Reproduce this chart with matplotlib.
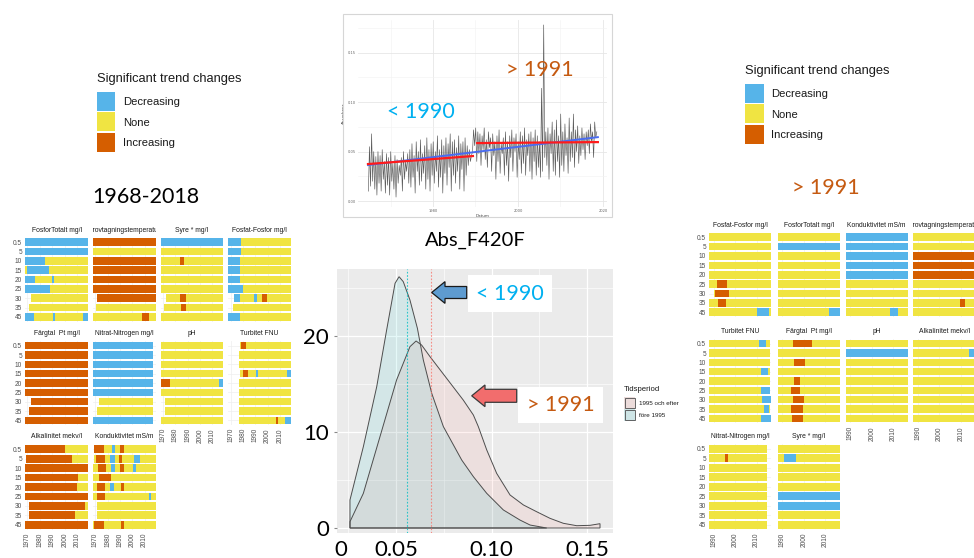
import numpy as np
import matplotlib
matplotlib.use('Agg')
import matplotlib.pyplot as plt
from matplotlib.patches import Rectangle, FancyArrow
from matplotlib.transforms import Affine2D

# ---------------------------------------------------------------- data
TREND_COLORS = {'D': '#56B4E9', 'N': '#F0E442', 'I': '#D55E00'}
legend_codes = ['D', 'N', 'I']
legend_labels = ['Decreasing', 'None', 'Increasing']
depths = ['0.5', '5', '10', '15', '20', '25', '30', '35', '45']

left_period = (1968, 2019)
left_xticks = [1970, 1980, 1990, 2000, 2010]
right_period = (1987.8, 2016.8)
right_xticks = [1990, 2000, 2010]

left_titles = ['FosforTotalt mg/l', 'Provtagningstemperatur', 'Syre * mg/l', 'Fosfat-Fosfor mg/l',
               'Färgtal  Pt mg/l', 'Nitrat-Nitrogen mg/l', 'pH', 'Turbitet FNU',
               'Alkalinitet mekv/l', 'Konduktivitet mS/m']

lp_fosfortotalt = [
    [('D', 1968, 2019)],
    [('D', 1968, 2019)],
    [('D', 1968, 1984.4), ('N', 1984.4, 2019)],
    [('N', 1968, 1969.5), ('D', 1969.5, 1987), ('N', 1987, 2019)],
    [('D', 1968, 1976), ('N', 1976, 1989.7), ('D', 1989.7, 1991.6), ('N', 1991.6, 2019)],
    [('D', 1968, 1988.4), ('N', 1988.4, 2019)],
    [('N', 1973, 2019)],
    [('N', 1971.6, 2019)],
    [('D', 1968, 1975.6), ('N', 1975.6, 1990.3), ('D', 1990.3, 1992.2), ('N', 1992.2, 2015), ('D', 2015, 2019)],
]
lp_temp = [
    [('I', 1968, 2019)],
    [('N', 1968, 2019)],
    [('I', 1968, 2019)],
    [('I', 1968, 2019)],
    [('I', 1968, 2019)],
    [('I', 1968, 2019)],
    [('I', 1971.6, 2019)],
    [('N', 1970.3, 2019)],
    [('N', 1968, 2007.8), ('I', 2007.8, 2013.2), ('N', 2013.2, 2019)],
]
lp_syre = [
    [('D', 1968, 2019)],
    [('N', 1968, 2019)],
    [('N', 1968, 1983.4), ('I', 1983.4, 1987.2), ('N', 1987.2, 2019)],
    [('N', 1968, 2019)],
    [('N', 1968, 2019)],
    [('N', 1968, 2019)],
    [('N', 1972.7, 1983.4), ('I', 1983.4, 1988.4), ('N', 1988.4, 2019)],
    [('N', 1971, 1984.2), ('I', 1984.2, 1989), ('N', 1989, 2019)],
    [('N', 1968, 2019)],
]
lp_fosfat = [
    [('D', 1968, 1978.6), ('N', 1978.6, 2019)],
    [('D', 1968, 1978), ('N', 1978, 2019)],
    [('D', 1968, 1977.8), ('N', 1977.8, 2019)],
    [('D', 1968, 1977.2), ('N', 1977.2, 2019)],
    [('D', 1968, 1977.8), ('N', 1977.8, 2019)],
    [('D', 1968, 1979.7), ('N', 1979.7, 2019)],
    [('D', 1972.4, 1977.8), ('N', 1977.8, 1989.3), ('D', 1989.3, 1991.7), ('N', 1991.7, 1995.2),
     ('I', 1995.2, 1999.2), ('N', 1999.2, 2019)],
    [('N', 1971.6, 2019)],
    [('D', 1968, 1977.2), ('N', 1977.2, 2019)],
]
lp_fargtal = [
    [('I', 1968, 2019)],
    [('I', 1968, 2019)],
    [('I', 1968, 2019)],
    [('I', 1968, 2019)],
    [('I', 1968, 2019)],
    [('I', 1968, 2019)],
    [('I', 1973, 2019)],
    [('I', 1971.6, 2019)],
    [('I', 1968, 2019)],
]
lp_nitrat = [
    [('D', 1968, 2016.6)],
    [('D', 1968, 2016.6)],
    [('D', 1968, 2016.6)],
    [('D', 1968, 2016.6)],
    [('D', 1968, 2016.6)],
    [('D', 1968, 2016.6)],
    [('N', 1973.2, 2016.6)],
    [('N', 1971.6, 2016.6)],
    [('D', 1968, 2016.6)],
]
lp_ph = [
    [('N', 1968, 2018.5)],
    [('N', 1968, 2018.5)],
    [('N', 1968, 2018.5)],
    [('N', 1968, 2018.5)],
    [('I', 1968, 1975.7), ('N', 1975.7, 2015.3), ('D', 2015.3, 2018.5)],
    [('N', 1968, 2018.5)],
    [('N', 1971.3, 2018.5)],
    [('N', 1971.3, 2018.5)],
    [('N', 1968, 2018.5)],
]
lp_turbitet = [
    [('N', 1977.5, 1978.5), ('I', 1978.5, 1982.6), ('N', 1982.6, 2019)],
    [('N', 1976.7, 2019)],
    [('N', 1976.7, 2019)],
    [('N', 1977.5, 1979.9), ('I', 1979.9, 1983.7), ('N', 1983.7, 1990.5), ('D', 1990.5, 1992.2),
     ('N', 1992.2, 2015.5), ('D', 2015.5, 2019)],
    [('N', 1976.7, 2019)],
    [('N', 1976.7, 2019)],
    [('N', 1976.7, 2019)],
    [('N', 1976.7, 2019)],
    [('N', 1976.7, 2006.9), ('I', 2006.9, 2008.7), ('N', 2008.7, 2014.3), ('D', 2014.3, 2019)],
]
lp_alkalinitet = [
    [('I', 1968, 2000), ('N', 2000, 2019)],
    [('I', 1969, 2005.9), ('N', 2005.9, 2019)],
    [('I', 1968, 2019)],
    [('I', 1968, 2010.8), ('N', 2010.8, 2019)],
    [('I', 1968, 2010.2), ('N', 2010.2, 2019)],
    [('I', 1968, 2019)],
    [('I', 1971.6, 2016.7), ('N', 2016.7, 2019)],
    [('I', 1971.6, 2008.6), ('N', 2008.6, 2019)],
    [('I', 1968, 2019)],
]
lp_konduktivitet = [
    [('I', 1969, 1977.2), ('N', 1977.2, 1983.9), ('D', 1983.9, 1985.8), ('N', 1985.8, 1990.4),
     ('I', 1990.4, 1993.1), ('N', 1993.1, 2019)],
    [('N', 1969, 1970.5), ('I', 1970.5, 1978.3), ('N', 1978.3, 1981.8), ('D', 1981.8, 1985.8),
     ('N', 1985.8, 1989.3), ('I', 1989.3, 1992), ('N', 1992, 2001.1), ('D', 2001.1, 2006.5), ('N', 2006.5, 2019)],
    [('N', 1968, 1972.4), ('I', 1972.4, 1978.6), ('N', 1978.6, 1983), ('D', 1983, 1985.8),
     ('N', 1985.8, 1990.4), ('I', 1990.4, 1993.1), ('N', 1993.1, 2000.6), ('D', 2000.6, 2003.3), ('N', 2003.3, 2019)],
    [('N', 1968, 1973.2), ('I', 1973.2, 1983.1), ('N', 1983.1, 2019)],
    [('N', 1968, 1971.6), ('I', 1971.6, 1978.3), ('N', 1978.3, 1982.3), ('D', 1982.3, 1985),
     ('N', 1985, 1991), ('I', 1991, 1993.1), ('N', 1993.1, 2019)],
    [('N', 1968, 1971.6), ('I', 1971.6, 1977.8), ('N', 1977.8, 2013.7), ('D', 2013.7, 2015.3), ('N', 2015.3, 2019)],
    [('N', 1971.6, 2019)],
    [('N', 1971.6, 2019)],
    [('N', 1968, 1969.2), ('I', 1969.2, 1976.9), ('N', 1976.9, 1991), ('I', 1991, 1993.1), ('N', 1993.1, 2019)],
]
left_panels = [lp_fosfortotalt, lp_temp, lp_syre, lp_fosfat, lp_fargtal, lp_nitrat,
               lp_ph, lp_turbitet, lp_alkalinitet, lp_konduktivitet]

right_titles = ['Fosfat-Fosfor mg/l', 'FosforTotalt mg/l', 'Konduktivitet mS/m', 'Provtagningstemperatur',
                'Turbitet FNU', 'Färgtal  Pt mg/l', 'pH', 'Alkalinitet mekv/l',
                'Nitrat-Nitrogen mg/l', 'Syre * mg/l']

rp_fosfat = [
    [('N', 1987.8, 2016.6)],
    [('N', 1987.8, 2016.6)],
    [('N', 1987.8, 2016.6)],
    [('N', 1987.8, 2016.6)],
    [('N', 1987.8, 2016.6)],
    [('N', 1987.8, 1991.2), ('I', 1991.2, 1996.2), ('N', 1996.2, 2016.6)],
    [('N', 1990, 1990.5), ('I', 1990.5, 1997), ('N', 1997, 2016.6)],
    [('N', 1987.8, 1991.7), ('I', 1991.7, 1995.6), ('N', 1995.6, 2016.6)],
    [('N', 1987.8, 2010), ('D', 2010, 2015.9), ('N', 2015.9, 2016.6)],
]
rp_fosfortotalt = [
    [('N', 1987.8, 2016.8)],
    [('D', 1987.8, 2016.8)],
    [('N', 1987.8, 2016.8)],
    [('N', 1987.8, 2016.8)],
    [('N', 1987.8, 2016.8)],
    [('N', 1987.8, 2016.8)],
    [('N', 1987.8, 2016.8)],
    [('N', 1987.8, 2016.8)],
    [('N', 1987.8, 2011.9), ('D', 2011.9, 2016.8)],
]
rp_konduktivitet = [
    [('D', 1987.8, 2016.8)],
    [('D', 1987.8, 2016.8)],
    [('D', 1987.8, 2016.8)],
    [('D', 1987.8, 2016.8)],
    [('D', 1987.8, 2016.8)],
    [('N', 1987.8, 2016.8)],
    [('N', 1987.8, 2016.8)],
    [('N', 1987.8, 2016.8)],
    [('N', 1987.8, 2008.3), ('D', 2008.3, 2012.2), ('N', 2012.2, 2016.8)],
]
rp_temp = [
    [('N', 1987.8, 2016.8)],
    [('N', 1987.8, 2016.8)],
    [('I', 1987.8, 2016.8)],
    [('I', 1987.8, 2016.8)],
    [('I', 1987.8, 2016.8)],
    [('N', 1987.8, 2016.8)],
    [('N', 1987.8, 2016.8)],
    [('N', 1987.8, 2009.4), ('I', 2009.4, 2011.7), ('N', 2011.7, 2016.8)],
    [('N', 1987.8, 2016.8)],
]
rp_turbitet = [
    [('N', 1987.8, 2011.2), ('D', 2011.2, 2014.4), ('N', 2014.4, 2016.3)],
    [('N', 1987.8, 2016.3)],
    [('N', 1987.8, 2016.3)],
    [('N', 1987.8, 2011.9), ('D', 2011.9, 2015.5), ('N', 2015.5, 2016.3)],
    [('N', 1987.8, 2016.3)],
    [('N', 1987.8, 2012), ('D', 2012, 2016.3)],
    [('N', 1987.8, 2012.8), ('D', 2012.8, 2016.8)],
    [('N', 1987.8, 2013.7), ('D', 2013.7, 2015.9), ('N', 2015.9, 2016.3)],
    [('N', 1987.8, 2012), ('D', 2012, 2016.8)],
]
rp_fargtal = [
    [('N', 1987.8, 1994.8), ('I', 1994.8, 2003.7), ('N', 2003.7, 2016.8)],
    [('N', 1987.8, 2016.8)],
    [('N', 1987.8, 1995.6), ('I', 1995.6, 2000.6), ('N', 2000.6, 2016.8)],
    [('N', 1987.8, 2016.8)],
    [('N', 1987.8, 1995.5), ('I', 1995.5, 1998.3), ('N', 1998.3, 2016.8)],
    [('N', 1987.8, 1994), ('I', 1994, 1998.3), ('N', 1998.3, 2016.8)],
    [('N', 1987.8, 1994.8), ('I', 1994.8, 2000.1), ('N', 2000.1, 2016.8)],
    [('N', 1987.8, 1994), ('I', 1994, 1999.8), ('N', 1999.8, 2016.8)],
    [('N', 1987.8, 1994.4), ('I', 1994.4, 1999.8), ('N', 1999.8, 2016.8)],
]
rp_ph = [
    [('N', 1987.8, 2016.8)],
    [('D', 1987.8, 2016.8)],
    [('N', 1987.8, 2016.8)],
    [('N', 1987.8, 2016.8)],
    [('N', 1987.8, 2016.8)],
    [('N', 1987.8, 2016.8)],
    [('N', 1987.8, 2016.8)],
    [('N', 1987.8, 2016.8)],
    [('N', 1987.8, 2016.8)],
]
rp_alkalinitet = [
    [('N', 1987.8, 2016.8)],
    [('N', 1987.8, 2013.7), ('D', 2013.7, 2016.8)],
    [('N', 1987.8, 2016.8)],
    [('N', 1987.8, 2016.8)],
    [('N', 1987.8, 2016.8)],
    [('N', 1987.8, 2016.8)],
    [('N', 1987.8, 2016.8)],
    [('N', 1987.8, 2016.8)],
    [('N', 1987.8, 2016.8)],
]
rp_nitrat = [
    [('N', 1987.8, 2014.7)],
    [('N', 1987.8, 1995.1), ('I', 1995.1, 1996.7), ('N', 1996.7, 2014.7)],
    [('N', 1987.8, 2014.7)],
    [('N', 1987.8, 2014.7)],
    [('N', 1987.8, 2014.7)],
    [('N', 1987.8, 2014.7)],
    [('N', 1987.8, 2014.7)],
    [('N', 1987.8, 2014.7)],
    [('N', 1987.8, 2014.7)],
]
rp_syre = [
    [('N', 1987.8, 2016.8)],
    [('N', 1987.8, 1990.9), ('D', 1990.9, 1996.4), ('N', 1996.4, 2016.8)],
    [('N', 1987.8, 2016.8)],
    [('N', 1987.8, 2016.8)],
    [('N', 1987.8, 2016.8)],
    [('D', 1987.8, 2016.8)],
    [('D', 1987.8, 2016.8)],
    [('N', 1987.8, 2016.8)],
    [('N', 1987.8, 2016.8)],
]
right_panels = [rp_fosfat, rp_fosfortotalt, rp_konduktivitet, rp_temp, rp_turbitet, rp_fargtal,
                rp_ph, rp_alkalinitet, rp_nitrat, rp_syre]

# Abs_F420F time series (two oscillations per year, 1965-2018)
ts_start = 1964.8
ts_values = [
    0.010, 0.055, 0.015, 0.068, 0.020, 0.050, 0.012, 0.045,
    0.006, 0.050, 0.018, 0.046, 0.010, 0.052, 0.022, 0.040,
    0.008, 0.048, 0.016, 0.044, 0.006, 0.050, 0.020, 0.038,
    0.012, 0.046, 0.004, 0.042, 0.018, 0.036, 0.026, 0.044,
    0.010, 0.050, 0.022, 0.040, 0.030, 0.048, 0.018, 0.052,
    0.014, 0.058, 0.024, 0.046, 0.008, 0.060, 0.030, 0.050,
    0.016, 0.062, 0.020, 0.048, 0.028, 0.056, 0.012, 0.064,
    0.022, 0.052, 0.010, 0.058, 0.026, 0.060, 0.018, 0.050,
    0.030, 0.066, 0.014, 0.052, 0.024, 0.062, 0.008, 0.056,
    0.028, 0.064, 0.016, 0.058, 0.034, 0.068, 0.010, 0.060,
    0.026, 0.062, 0.018, 0.054, 0.030, 0.066, 0.012, 0.058,
    0.032, 0.060, 0.010, 0.064, 0.026, 0.056, 0.036, 0.052,
    0.040, 0.046, 0.050, 0.072, 0.056, 0.074, 0.040, 0.070,
    0.048, 0.068, 0.036, 0.066, 0.052, 0.074, 0.042, 0.062,
    0.034, 0.070, 0.054, 0.064, 0.030, 0.068, 0.046, 0.060,
    0.022, 0.066, 0.040, 0.072, 0.028, 0.058, 0.048, 0.064,
    0.026, 0.070, 0.036, 0.060, 0.020, 0.066, 0.044, 0.072,
    0.030, 0.064, 0.050, 0.068, 0.024, 0.060, 0.042, 0.070,
    0.028, 0.066, 0.038, 0.074, 0.026, 0.062, 0.046, 0.068,
    0.030, 0.070, 0.022, 0.064, 0.040, 0.072, 0.026, 0.066,
    0.034, 0.060, 0.024, 0.114, 0.030, 0.178, 0.044, 0.070,
    0.036, 0.074, 0.022, 0.068, 0.048, 0.080, 0.030, 0.072,
    0.026, 0.082, 0.040, 0.066, 0.024, 0.088, 0.036, 0.070,
    0.030, 0.078, 0.046, 0.064, 0.028, 0.084, 0.040, 0.070,
    0.044, 0.088, 0.034, 0.072, 0.050, 0.076, 0.038, 0.066,
    0.046, 0.074, 0.052, 0.068, 0.042, 0.070, 0.056, 0.072,
    0.048, 0.078, 0.060, 0.070, 0.044, 0.080, 0.064, 0.070,
]
trend_before_x = [1964.7, 1989.4]
trend_before_y = [0.0374, 0.0455]
trend_after_x = [1990.4, 2018.8]
trend_after_y = [0.0586, 0.0596]
trend_all_x = [1964.7, 2018.8]
trend_all_y = [0.0364, 0.0646]

# density curves of Abs_F420F
dens_labels = ['1995 och efter', 'före 1995']
dens_colors = ['#F8766D', '#00BFC4']
dens_after_x = [0.0258, 0.0328, 0.0415, 0.0502, 0.0572, 0.0604, 0.0633, 0.0677, 0.0764, 0.0851,
                0.0904, 0.0930, 0.0974, 0.1026, 0.1096, 0.1166, 0.1235, 0.1305, 0.1375, 0.1445,
                0.1515, 0.1567]
dens_after_y = [0.66, 3.61, 9.51, 15.42, 18.89, 19.48, 19.06, 17.85, 15.59, 13.33,
                11.77, 10.56, 8.13, 5.69, 3.44, 2.40, 1.70, 1.01, 0.49, 0.24,
                0.28, 0.45]
dens_before_x = [0.0258, 0.0328, 0.0398, 0.0450, 0.0494, 0.0515, 0.0537, 0.0572, 0.0611, 0.0642,
                 0.0686, 0.0747, 0.0843, 0.0904, 0.0974, 0.1061, 0.1148, 0.1201, 0.1288]
dens_before_y = [2.92, 8.47, 14.72, 20.63, 25.49, 26.18, 25.66, 23.75, 20.80, 17.50,
                 14.03, 10.56, 7.08, 5.35, 3.61, 1.88, 0.83, 0.31, 0.0]
dens_means = [0.0682, 0.0555]
dens_xticks = [0.05, 0.10, 0.15]
dens_yticks = [0, 10, 20]

# ---------------------------------------------------------------- figure
W, H = 974, 558
fig = plt.figure(figsize=(W / 100, H / 100), dpi=100)
fig.patch.set_facecolor('white')
PX = Affine2D().scale(1 / W, -1 / H).translate(0, 1) + fig.transFigure
SMALL = 'Liberation Sans'
BIG = 'Lato'


def ax_px(x0, y0, x1, y1):
    return fig.add_axes([x0 / W, 1 - y1 / H, (x1 - x0) / W, (y1 - y0) / H])


def draw_grid(panels, titles, col_x, row_y, xlim, xticks):
    n = len(panels)
    for i, (rows, title) in enumerate(zip(panels, titles)):
        r, c = divmod(i, 4)
        x0, x1 = col_x[c]
        y0, y1 = row_y[r]
        ax = ax_px(x0, y0, x1, y1)
        ax.set_facecolor('white')
        for j, segs in enumerate(rows):
            for code, s, e in segs:
                ax.barh(j, e - s, left=s, height=0.82, color=TREND_COLORS[code],
                        linewidth=0, zorder=2)
        ax.set_xlim(*xlim)
        ax.set_ylim(len(depths) - 0.5, -0.5)
        ax.set_xticks(xticks)
        ax.set_yticks(range(len(depths)))
        ax.grid(True, color='#EEEEEE', lw=0.5, zorder=0)
        for sp in ax.spines.values():
            sp.set_visible(False)
        if c == 0:
            ax.set_yticklabels(depths, fontsize=4.7, color='#4D4D4D', family=SMALL)
        else:
            ax.set_yticklabels([])
        if i + 4 >= n:
            ax.set_xticklabels([str(t) for t in xticks], rotation=90, fontsize=4.7,
                               color='#4D4D4D', family=SMALL)
        else:
            ax.set_xticklabels([])
        ax.tick_params(length=0, pad=2.2)
        sax = ax_px(x0, y0 - 13.5, x1, y0 - 1.5)
        sax.axis('off')
        sax.text(0.5, 0.5, title, ha='center', va='center', fontsize=4.9, color='#1A1A1A',
                 family=SMALL, clip_on=True, transform=sax.transAxes)


def draw_legend(x, y):
    fig.text(x, y, 'Significant trend changes', transform=PX, fontsize=9.3, family=SMALL,
             color='#1A1A1A', ha='left', va='center')
    for k, (code, lab) in enumerate(zip(legend_codes, legend_labels)):
        top = y + 12.5 + k * 20.5
        fig.add_artist(Rectangle((x, top), 18.5, 19, transform=PX, facecolor=TREND_COLORS[code],
                                 edgecolor='none'))
        fig.text(x + 26, top + 10.5, lab, transform=PX, fontsize=8.1, family=SMALL,
                 color='#1A1A1A', ha='left', va='center')


# left facet grid
draw_grid(left_panels, left_titles,
          [(25, 88.3), (92.7, 155.7), (160.7, 223.3), (228.3, 291)],
          [(237.5, 321.5), (341, 425), (444.5, 529.5)],
          left_period, left_xticks)
# right facet grid
draw_grid(right_panels, right_titles,
          [(709.3, 771), (777.7, 840), (845.7, 907.7), (913.3, 975.5)],
          [(232.5, 317), (339, 423), (444, 529.5)],
          right_period, right_xticks)

draw_legend(96.7, 79.3)
draw_legend(745, 71.3)

fig.text(146, 197, '1968-2018', transform=PX, fontsize=15.5, family=BIG, ha='center', va='center')
fig.text(826, 188, '> 1991', transform=PX, fontsize=15.5, family=BIG, color='#C55A11',
         ha='center', va='center')
fig.text(475, 240, 'Abs_F420F', transform=PX, fontsize=14.5, family=BIG, ha='center', va='center')

# time series thumbnail
fig.add_artist(Rectangle((343, 13.5), 269, 203, transform=PX, facecolor='none',
                         edgecolor='#D6D6D6', lw=0.8))
tax = ax_px(358, 20, 607, 207)
tax.set_facecolor('white')
ts_x = ts_start + np.arange(len(ts_values)) * 0.25
tax.plot(ts_x, ts_values, color='#5A5A5A', lw=0.45, zorder=3)
tax.plot(trend_all_x, trend_all_y, color='#4A6CF0', lw=1.4, zorder=4)
tax.plot(trend_before_x, trend_before_y, color='#FF1A1A', lw=1.6, zorder=5)
tax.plot(trend_after_x, trend_after_y, color='#FF1A1A', lw=1.6, zorder=5)
tax.set_xlim(1962.35, 2020.95)
tax.set_ylim(-0.006, 0.183)
tax.set_xticks([1980, 2000, 2020])
tax.set_xticks([1970, 1990, 2010], minor=True)
tax.set_yticks([0.0, 0.05, 0.10, 0.15])
tax.set_yticks([0.025, 0.075, 0.125, 0.175], minor=True)
tax.set_yticklabels(['0.00', '0.05', '0.10', '0.15'])
tax.grid(True, which='major', color='#E6E6E6', lw=0.6)
tax.grid(True, which='minor', color='#F2F2F2', lw=0.4)
for sp in tax.spines.values():
    sp.set_visible(False)
tax.tick_params(which='both', length=0, labelsize=2.6, labelcolor='#666666', pad=1.5)
tax.set_xlabel('Datum', fontsize=3, color='#444444', labelpad=1)
tax.set_ylabel('Absorbans', fontsize=3, color='#444444', labelpad=1)
fig.text(421, 112, '< 1990', transform=PX, fontsize=15.5, family=BIG, color='#00B0F0',
         ha='center', va='center')
fig.text(540, 70, '> 1991', transform=PX, fontsize=15.5, family=BIG, color='#C55A11',
         ha='center', va='center')

# density plot
dax = ax_px(336.7, 269, 613, 533)
dax.set_facecolor('#EBEBEB')
for xs, ys, col in [(dens_after_x, dens_after_y, dens_colors[0]),
                    (dens_before_x, dens_before_y, dens_colors[1])]:
    px_ = np.r_[xs[0], xs, xs[-1]]
    py_ = np.r_[0, ys, 0]
    dax.fill(px_, py_, facecolor=col, alpha=0.1, edgecolor='none', zorder=3)
    dax.fill(px_, py_, facecolor='none', edgecolor='#4D4D4D', lw=0.7, zorder=4)
for m, col in zip(dens_means, dens_colors):
    dax.axvline(m, color=col, ls=(0, (1.5, 1.5)), lw=0.8, alpha=0.8, zorder=5)
dax.set_xlim(0.01885, 0.1635)
dax.set_ylim(-0.52, 26.98)
dax.set_xticks(dens_xticks)
dax.set_xticks([0.025, 0.075, 0.125], minor=True)
dax.set_yticks(dens_yticks)
dax.set_yticks([5, 15, 25], minor=True)
dax.set_xticklabels(['0.05', '0.10', '0.15'])
dax.grid(True, which='major', color='white', lw=0.9, zorder=1)
dax.grid(True, which='minor', color='white', lw=0.45, zorder=1)
dax.set_axisbelow(True)
for sp in dax.spines.values():
    sp.set_visible(False)
dax.tick_params(axis='x', which='both', length=0, labelsize=16, pad=5)
dax.tick_params(axis='y', which='major', length=2.5, color='#888888', labelsize=16, pad=3)
dax.tick_params(axis='y', which='minor', length=0)
for lab in dax.get_xticklabels() + dax.get_yticklabels():
    lab.set_family(BIG)
dax.text(0.015, -0.025, '0', transform=dax.transAxes, ha='center', va='top', fontsize=16, family=BIG)

# arrows and text boxes on the density plot
fig.add_artist(FancyArrow(466.7, 292.5, -35, 0, width=12, head_width=21.7, head_length=13.3,
                          length_includes_head=True, transform=PX, facecolor='#5E9BD0',
                          edgecolor='#1A1A1A', lw=0.9))
fig.add_artist(FancyArrow(516.7, 395.8, -45, 0, width=13, head_width=21.7, head_length=13.3,
                          length_includes_head=True, transform=PX, facecolor='#F26D6D',
                          edgecolor='#3A3A3A', lw=0.9))
fig.add_artist(Rectangle((468.3, 275), 83.4, 36.7, transform=PX, facecolor='white', edgecolor='none'))
fig.add_artist(Rectangle((518.3, 386.7), 85, 36.6, transform=PX, facecolor='white', edgecolor='none'))
fig.text(510, 293.5, '< 1990', transform=PX, fontsize=15.5, family=BIG, color='#00B0F0',
         ha='center', va='center', zorder=6)
fig.text(560.8, 405, '> 1991', transform=PX, fontsize=15.5, family=BIG, color='#C55A11',
         ha='center', va='center', zorder=6)

# density legend
fig.text(623.5, 389.3, 'Tidsperiod', transform=PX, fontsize=5.6, family=SMALL, color='#1A1A1A',
         ha='left', va='center')
for k, (lab, col) in enumerate(zip(dens_labels, dens_colors)):
    top = 397 + k * 12
    fig.add_artist(Rectangle((624, top), 11, 11.5, transform=PX, facecolor='#EBEBEB',
                             edgecolor='none'))
    fig.add_artist(Rectangle((624, top), 11, 11.5, transform=PX, facecolor=col, alpha=0.12,
                             edgecolor='none'))
    fig.add_artist(Rectangle((624.5, top + 0.5), 10, 10.5, transform=PX, facecolor='none',
                             edgecolor='#4D4D4D', lw=0.6))
    fig.text(639.3, top + 6.5, lab, transform=PX, fontsize=4.5, family=SMALL, color='#1A1A1A',
             ha='left', va='center')

fig.savefig('out.png', dpi=100)
